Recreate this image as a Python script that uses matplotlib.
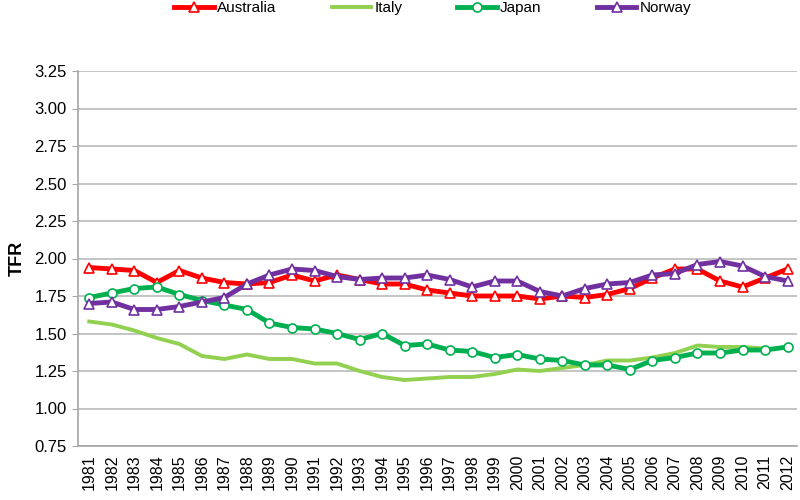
import numpy as np
import matplotlib
matplotlib.use('Agg')
import matplotlib.pyplot as plt

years = list(range(1981, 2013))

australia = [1.94, 1.93, 1.92, 1.84, 1.92, 1.87, 1.84, 1.83, 1.84, 1.89,
             1.85, 1.89, 1.86, 1.83, 1.83, 1.79, 1.77, 1.75, 1.75, 1.75,
             1.73, 1.75, 1.74, 1.76, 1.80, 1.87, 1.93, 1.93, 1.85, 1.81,
             1.87, 1.93]
italy = [1.58, 1.56, 1.52, 1.47, 1.43, 1.35, 1.33, 1.36, 1.33, 1.33,
         1.30, 1.30, 1.25, 1.21, 1.19, 1.20, 1.21, 1.21, 1.23, 1.26,
         1.25, 1.27, 1.29, 1.32, 1.32, 1.34, 1.37, 1.42, 1.41, 1.41,
         1.40, np.nan]
japan = [1.74, 1.77, 1.80, 1.81, 1.76, 1.72, 1.69, 1.66, 1.57, 1.54,
         1.53, 1.50, 1.46, 1.50, 1.42, 1.43, 1.39, 1.38, 1.34, 1.36,
         1.33, 1.32, 1.29, 1.29, 1.26, 1.32, 1.34, 1.37, 1.37, 1.39,
         1.39, 1.41]
norway = [1.70, 1.71, 1.66, 1.66, 1.68, 1.71, 1.74, 1.83, 1.89, 1.93,
          1.92, 1.88, 1.86, 1.87, 1.87, 1.89, 1.86, 1.81, 1.85, 1.85,
          1.78, 1.75, 1.80, 1.83, 1.84, 1.89, 1.90, 1.96, 1.98, 1.95,
          1.88, 1.85]

yticks = [0.75, 1.00, 1.25, 1.50, 1.75, 2.00, 2.25, 2.50, 2.75, 3.00, 3.25]

plt.rcParams['font.family'] = ['Liberation Sans', 'DejaVu Sans']

fig = plt.figure(figsize=(8, 5), dpi=100)
ax = fig.add_axes([0.0975, 0.108, 0.8985, 0.75])

x = np.arange(len(years))
ax.plot(x, australia, color='#FF0000', lw=3.5, marker='^', ms=6.5,
        mfc='white', mec='#FF0000', mew=1.2, label='Australia', zorder=3)
ax.plot(x, italy, color='#92D050', lw=2.8, label='Italy', zorder=3)
ax.plot(x, japan, color='#00B050', lw=3.5, marker='o', ms=6.5,
        mfc='white', mec='#00B050', mew=1.2, label='Japan', zorder=3)
ax.plot(x, norway, color='#7030A0', lw=3.5, marker='^', ms=6.5,
        mfc='white', mec='#7030A0', mew=1.2, label='Norway', zorder=3)

ax.set_xlim(-0.5, len(years) - 0.59)
ax.set_ylim(0.75, 3.25)
ax.set_yticks(yticks)
ax.set_yticklabels([f'{v:.2f}' for v in yticks], fontsize=12)
ax.set_xticks(x)
ax.set_xticklabels([str(y) for y in years], rotation=90, fontsize=11.5)
ax.grid(axis='y', color='#BFBFBF', lw=1.3)
ax.set_axisbelow(True)
for side in ('top', 'right'):
    ax.spines[side].set_visible(False)
for side in ('left', 'bottom'):
    ax.spines[side].set_color('#A6A6A6')
    ax.spines[side].set_linewidth(1.2)
ax.tick_params(axis='y', length=4, color='#A6A6A6', pad=4)
ax.tick_params(axis='x', length=0, pad=6)
ax.set_ylabel('TFR', fontsize=13, fontweight='bold', labelpad=6)

fig.legend(loc='upper center', bbox_to_anchor=(0.541, 1.025), ncol=4,
           frameon=False, fontsize=11, handlelength=2.6, columnspacing=3.6,
           handletextpad=0.2)

fig.savefig('out.png', dpi=100)
